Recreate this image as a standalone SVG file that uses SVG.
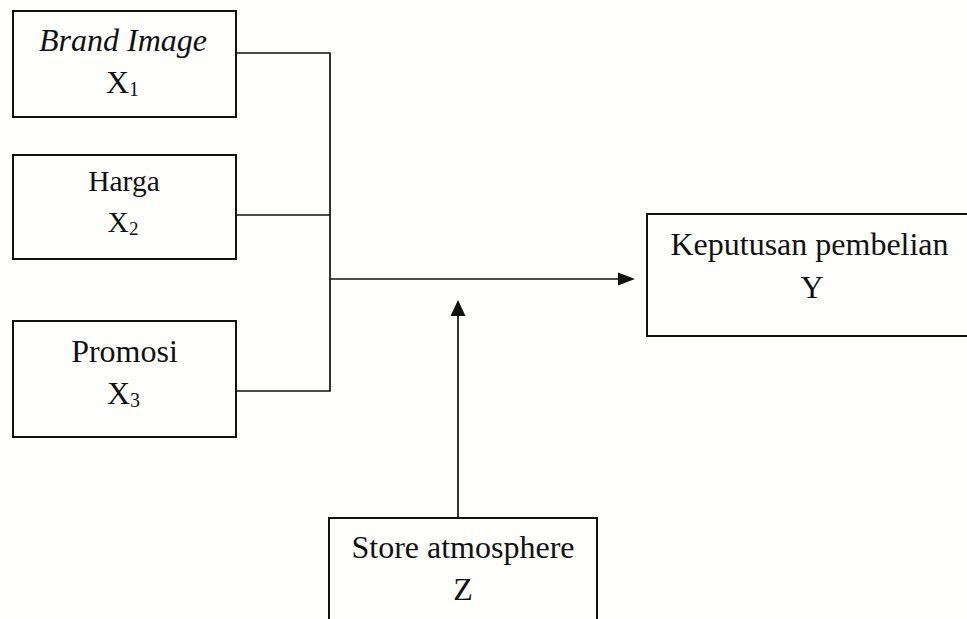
<svg xmlns="http://www.w3.org/2000/svg" width="967" height="619" viewBox="0 0 967 619">
<style>
.box{fill:none;stroke:#111;stroke-width:2}
.ln{fill:none;stroke:#111;stroke-width:1.7}
.ah{fill:#111;stroke:none}
text{font-family:"Liberation Serif","Times New Roman",serif;font-size:32px;fill:#111;text-anchor:middle}
.sm{font-size:29.5px}
.sub{font-size:20px}
.sub2{font-size:19px}
</style>
<rect x="0" y="0" width="967" height="619" fill="#fefefc"/>
<g id="x1">
<rect class="box" x="13" y="11" width="223" height="106"/>
<text x="123" y="51" font-style="italic">Brand Image</text>
<text x="122.5" y="93.3">X<tspan class="sub" dy="3">1</tspan></text>
</g>
<g id="x2">
<rect class="box" x="13" y="155" width="223" height="104"/>
<text class="sm" x="124" y="190.5">Harga</text>
<text class="sm" x="123" y="231.7">X<tspan class="sub2" dy="3">2</tspan></text>
</g>
<g id="x3">
<rect class="box" x="13" y="321" width="223" height="116"/>
<text x="124.5" y="362">Promosi</text>
<text x="123.5" y="404">X<tspan class="sub" dy="3">3</tspan></text>
</g>
<g id="y">
<rect class="box" x="647" y="214" width="340" height="122"/>
<text x="809.5" y="255">Keputusan pembelian</text>
<text x="812" y="297.5">Y</text>
</g>
<g id="z">
<rect class="box" x="329" y="518" width="268" height="120"/>
<text x="463" y="557.7">Store atmosphere</text>
<text x="463" y="599.5">Z</text>
</g>
<g id="connectors">
<path class="ln" d="M236 53 H330 V391 H236"/>
<path class="ln" d="M236 215 H330"/>
<path class="ln" d="M330 279 H620"/>
<polygon class="ah" points="635,279 618,272.5 618,285.5"/>
<path class="ln" d="M458 518 V314"/>
<polygon class="ah" points="458,300 450.5,316 465.5,316"/>
</g>
</svg>
